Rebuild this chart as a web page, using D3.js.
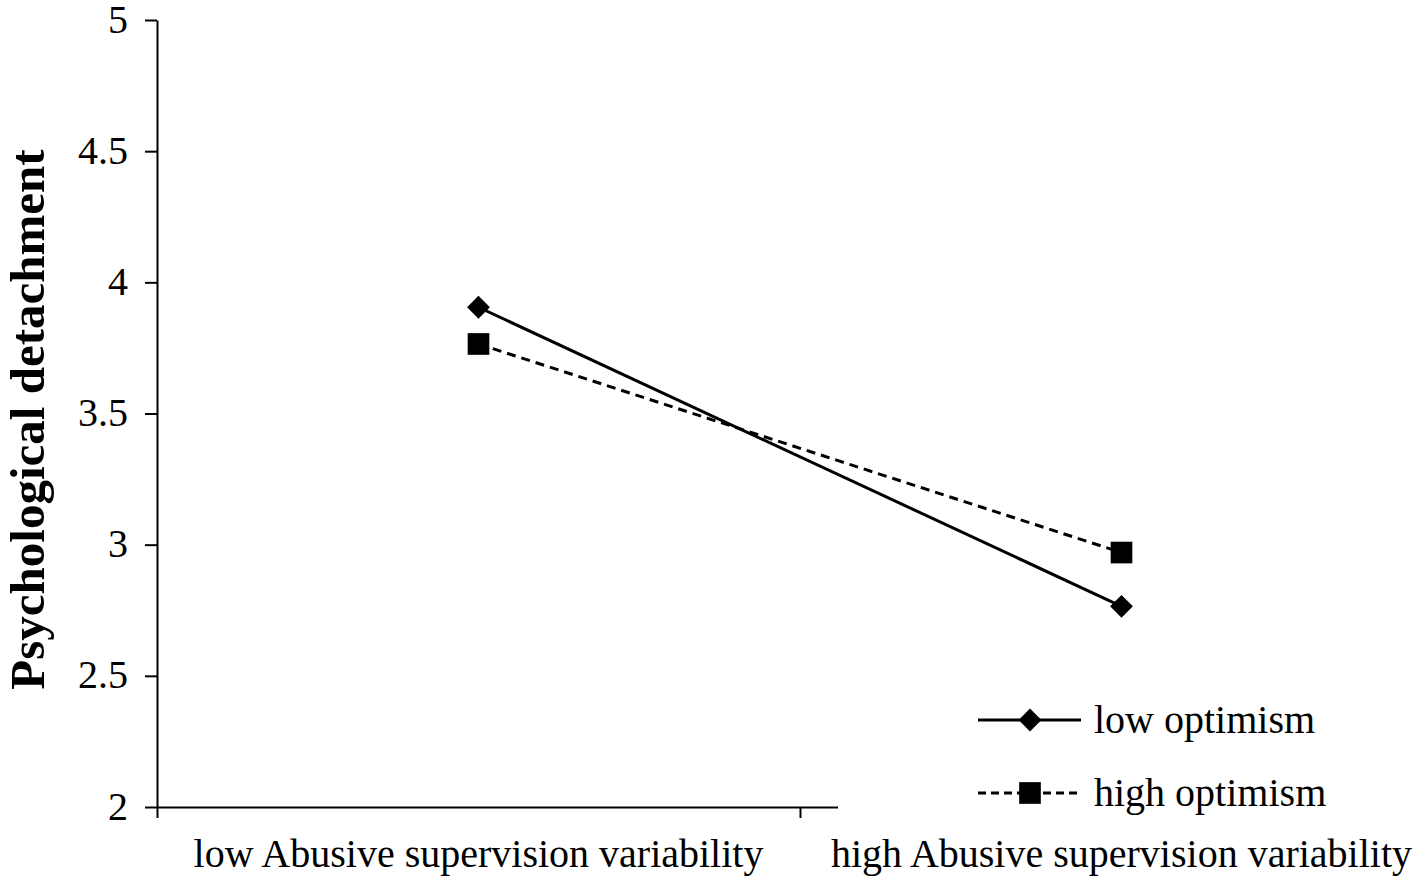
<!DOCTYPE html>
<html>
<head>
<meta charset="utf-8">
<script src="https://cdn.jsdelivr.net/npm/d3@7"></script>
<style>
  html, body { margin: 0; padding: 0; background: #fff; }
  svg { display: block; font-family: "Liberation Serif", "Times New Roman", serif; }
</style>
</head>
<body>
<div id="chart"></div>
<script>
const categories = ["low Abusive supervision variability", "high Abusive supervision variability"];
const lowOptimism = [3.905, 2.765];
const highOptimism = [3.765, 2.97];
const yTicks = [2, 2.5, 3, 3.5, 4, 4.5, 5];
const seriesNames = ["low optimism", "high optimism"];

function drawChart() {
    const width = 1421, height = 879;

    const svg = d3.select("#chart")
        .append("svg")
        .attr("width", width)
        .attr("height", height);

    // plot area in page pixels
    const left = 157, top = 20, bottom = 807, right = 1443;

    const x = d3.scaleBand()
        .domain(categories)
        .range([left, right])
        .padding(0);

    const y = d3.scaleLinear()
        .domain([2, 5])
        .range([bottom, top]);

    // tick marks between categories (Excel style)
    const xb = d3.scaleLinear().domain([0, categories.length]).range([left, right]);

    svg.append("g")
        .attr("transform", `translate(0,${bottom})`)
        .call(d3.axisBottom(xb).tickValues(d3.range(categories.length + 1)).tickFormat("").tickSize(11).tickSizeOuter(0))
        .call(g => g.selectAll("path, line").attr("stroke", "#000").attr("stroke-width", 2));

    svg.append("g")
        .attr("transform", `translate(${left},0)`)
        .call(d3.axisLeft(y).tickValues(yTicks).tickFormat(d3.format("")).tickSize(12).tickSizeOuter(0).tickPadding(17))
        .call(g => g.selectAll("path, line").attr("stroke", "#000").attr("stroke-width", 2))
        .call(g => g.selectAll("text").attr("font-size", 40).attr("dy", "0.3em").attr("fill", "#000").attr("font-family", "Liberation Serif"));

    // category labels
    svg.append("g")
        .selectAll("text")
        .data(categories)
        .enter()
        .append("text")
        .attr("x", d => x(d) + x.bandwidth() / 2)
        .attr("y", 867)
        .attr("text-anchor", "middle")
        .attr("font-size", 40)
        .text(d => d);

    // y title
    svg.append("text")
        .attr("transform", `translate(44,${(top + bottom) / 2 + 6}) rotate(-90)`)
        .attr("text-anchor", "middle")
        .attr("font-size", 49)
        .attr("font-weight", "bold")
        .text("Psychological detachment");

    const line = d3.line()
        .x((d, i) => x(categories[i]) + x.bandwidth() / 2)
        .y(d => y(d));

    svg.append("path")
        .datum(highOptimism)
        .attr("fill", "none")
        .attr("stroke", "#000")
        .attr("stroke-width", 3)
        .attr("stroke-dasharray", "9,6")
        .attr("d", line);

    svg.append("path")
        .datum(lowOptimism)
        .attr("fill", "none")
        .attr("stroke", "#000")
        .attr("stroke-width", 3)
        .attr("d", line);

    const diamond = d3.symbol().type(d3.symbolSquare).size(260);
    const square = d3.symbol().type(d3.symbolSquare).size(470);

    svg.append("g")
        .selectAll("path")
        .data(lowOptimism)
        .enter()
        .append("path")
        .attr("d", diamond)
        .attr("transform", (d, i) => `translate(${x(categories[i]) + x.bandwidth() / 2},${y(d)}) rotate(45)`)
        .attr("fill", "#000");

    svg.append("g")
        .selectAll("path")
        .data(highOptimism)
        .enter()
        .append("path")
        .attr("d", square)
        .attr("transform", (d, i) => `translate(${x(categories[i]) + x.bandwidth() / 2},${y(d)})`)
        .attr("fill", "#000");

    // legend (white box covers the right part of the axis)
    const legend = svg.append("g");
    legend.append("rect")
        .attr("x", 838)
        .attr("y", 680)
        .attr("width", width - 838)
        .attr("height", 145)
        .attr("fill", "#fff");

    const rows = legend.selectAll("g.row")
        .data(seriesNames)
        .enter()
        .append("g")
        .attr("class", "row")
        .attr("transform", (d, i) => `translate(0,${720 + i * 73})`);

    rows.append("line")
        .attr("x1", 978)
        .attr("x2", 1081)
        .attr("stroke", "#000")
        .attr("stroke-width", 3)
        .attr("stroke-dasharray", (d, i) => i === 1 ? "8,5" : null);

    rows.append("path")
        .attr("d", (d, i) => i === 0 ? diamond() : square())
        .attr("transform", (d, i) => `translate(1030,0)` + (i === 0 ? " rotate(45)" : ""))
        .attr("fill", "#000");

    rows.append("text")
        .attr("x", 1094)
        .attr("y", 13)
        .attr("font-size", 40)
        .text(d => d);
}

drawChart();
</script>
</body>
</html>
